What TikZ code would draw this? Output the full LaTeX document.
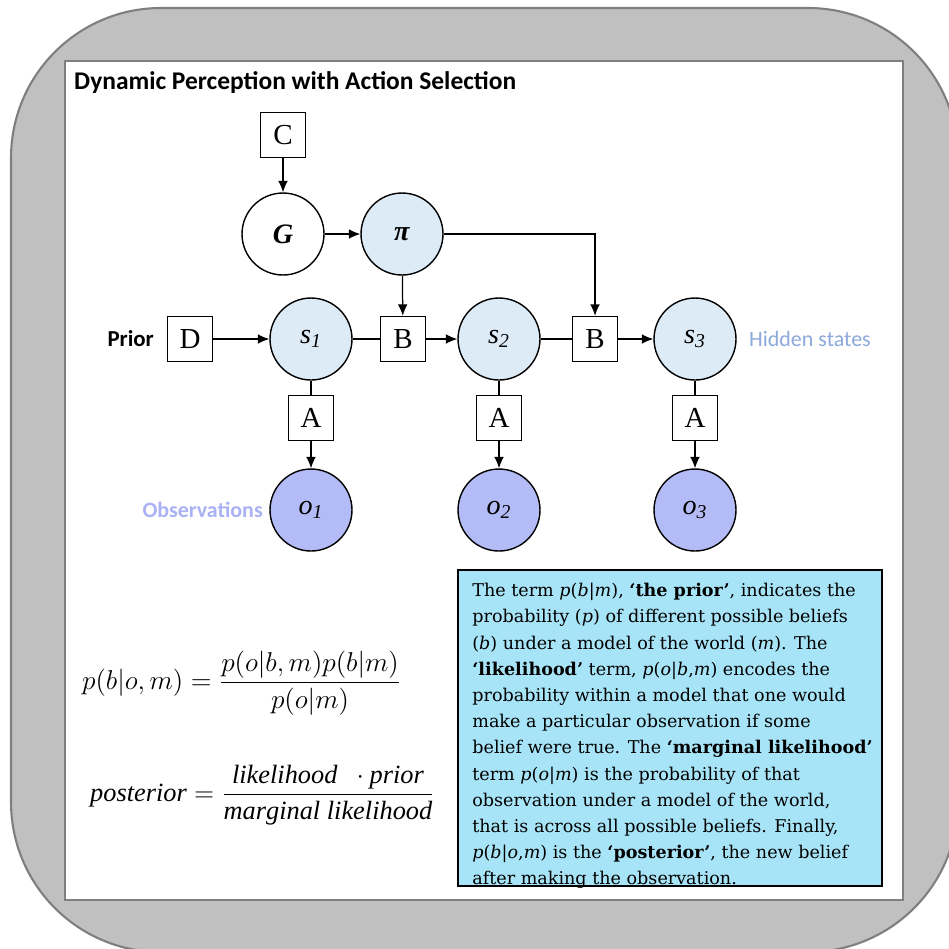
\RequirePackage{fix-cm}
\documentclass[tikz,border=0pt]{standalone}
\usepackage{amsmath}
\usepackage{fontspec}
\setmainfont{Liberation Serif}
\newfontfamily\calibri{Carlito}
\newfontfamily\cambria{DejaVu Serif}
\usepackage{xcolor}
\usepackage{tikz}
\usetikzlibrary{calc}
\usetikzlibrary{arrows.meta}
\definecolor{framegray}{HTML}{C0C0C0}
\definecolor{edgegray}{HTML}{7F7F7F}
\definecolor{statefill}{HTML}{DDEBF7}
\definecolor{obsfill}{HTML}{B4BCF7}
\definecolor{obstext}{HTML}{AAB2F5}
\definecolor{hiddentext}{HTML}{8EA9DB}
\definecolor{notefill}{HTML}{A8E4F7}

\begin{document}
\begin{tikzpicture}[x=0.02cm, y=-0.02cm, >={Latex[length=6.5pt,width=5.5pt]},
	var/.style={circle, draw, line width=0.8pt, minimum size=1.64cm, inner sep=0pt, font=\fontsize{16}{18}\selectfont},
	state/.style={var, fill=statefill},
	obs/.style={var, fill=obsfill},
	factor/.style={rectangle, draw, line width=0.8pt, fill=white, minimum size=0.9cm, inner sep=0pt, font=\fontsize{16.5}{18}\selectfont},
	side/.style={font=\calibri\fontsize{12.5}{14}\selectfont}]
	\useasboundingbox (0,0) rectangle (949,948);
	\clip (0,0) rectangle (949,948);
	\filldraw[fill=framegray, draw=edgegray, line width=1.2pt, rounded corners=3cm] (11,8) rectangle (958,952);
	\filldraw[fill=white, draw=edgegray, line width=1pt] (65,61) rectangle (903,900);
	\node[anchor=west, font=\calibri\bfseries\fontsize{14.5}{17}\selectfont] (title) at (68,83) {Dynamic Perception with Action Selection};
	% policy level
	\node[factor] (C) at (283,135) {C};
	\node[var] (G) at (283,234) {\textbf{\textit{G}}};
	\node[state] (pi) at (402,234) {\textbf{\textit{π}}};
	% hidden states
	\node[factor] (D) at (190,339) {D};
	\node[state] (s1) at (311,339) {\textit{s\textsubscript{1}}};
	\node[factor] (B1) at (403,339) {B};
	\node[state] (s2) at (499,339) {\textit{s\textsubscript{2}}};
	\node[factor] (B2) at (595,339) {B};
	\node[state] (s3) at (695,339) {\textit{s\textsubscript{3}}};
	% observations
	\foreach \i/\x in {1/311, 2/499, 3/695} {
		\node[factor] (A\i) at (\x,418) {A};
		\node[obs] (o\i) at (\x,510) {\textit{o\textsubscript{\i}}};
	}
	\node[side, anchor=east, font=\calibri\bfseries\fontsize{13}{15}\selectfont] (prior) at (160,339) {Prior};
	\node[side, anchor=west, text=hiddentext] (hidden) at (743,339) {Hidden states};
	\node[side, anchor=east, text=obstext, font=\calibri\bfseries\fontsize{12.5}{14}\selectfont] (observations) at (269,510) {Observations};
	% connectors
	\draw[->, line width=0.7pt] (C) -- (G);
	\draw[->, line width=0.7pt] (G) -- (pi);
	\draw[->, line width=0.7pt] (pi) -- (B1);
	\draw[->, line width=0.7pt] (pi) -| (B2);
	\draw[->, line width=0.7pt] (D) -- (s1);
	\draw[line width=0.7pt] (s1) -- (B1);
	\draw[->, line width=0.7pt] (B1) -- (s2);
	\draw[line width=0.7pt] (s2) -- (B2);
	\draw[->, line width=0.7pt] (B2) -- (s3);
	\foreach \i in {1,2,3} {
		\draw[line width=0.7pt] (s\i) -- (A\i);
		\draw[->, line width=0.7pt] (A\i) -- (o\i);
	}
	% Bayes rule
	\node[anchor=west, font=\fontsize{15.5}{18}\selectfont] (bayes) at (76,683) {$p(b|o,m) = \dfrac{p(o|b,m)p(b|m)}{p(o|m)}$};
	\node[anchor=west, font=\fontsize{15}{18}\selectfont] (words) at (84,795) {$\mathit{posterior} = \dfrac{\mathit{likelihood}\ \ \cdot \mathit{prior}}{\mathit{marginal\ likelihood}}$};
	% explanation box
	\node[draw, line width=0.8pt, fill=notefill, minimum width=8.48cm, minimum height=6.32cm] (note) at (670,728) {};
	\node[anchor=north west, inner sep=0pt, align=left, font=\cambria\fontsize{10}{14.9}\selectfont] (notetext) at (472,583) {The term \textit{p}(\textit{b}|\textit{m}), \textbf{‘the prior’}, indicates the\\
		probability (\textit{p}) of different possible beliefs\\
		(\textit{b}) under a model of the world (\textit{m}). The\\
		\textbf{‘likelihood’} term, \textit{p}(\textit{o}|\textit{b},\textit{m}) encodes the\\
		probability within a model that one would\\
		make a particular observation if some\\
		belief were true. The \textbf{‘marginal likelihood’}\\
		term \textit{p}(\textit{o}|\textit{m}) is the probability of that\\
		observation under a model of the world,\\
		that is across all possible beliefs. Finally,\\
		\textit{p}(\textit{b}|\textit{o},\textit{m}) is the \textbf{‘posterior’}, the new belief\\
		after making the observation.};
\end{tikzpicture}
\end{document}
